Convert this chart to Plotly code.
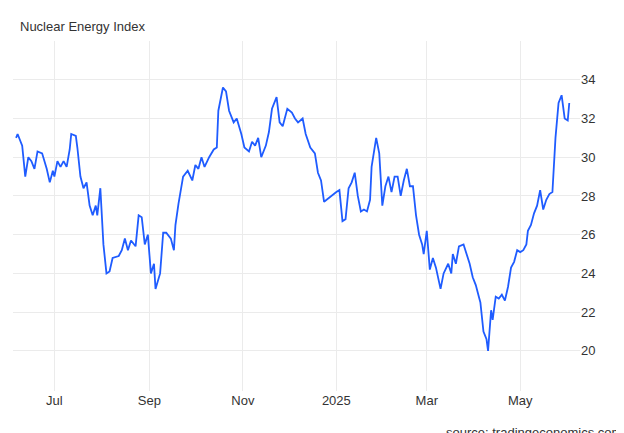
import pandas as pd
import plotly.graph_objects as go

start_date = "2024-06-06"
day_offsets = [0,1,4,6,8,10,12,14,17,20,22,24,25,27,29,31,33,35,36,39,40,42,44,46,48,50,52,53,55,57,59,61,63,67,69,71,73,75,78,80,82,84,86,88,90,91,94,96,98,101,103,104,106,109,112,115,117,119,121,123,126,129,131,132,135,137,139,142,144,147,149,152,154,156,158,160,163,165,167,170,172,174,177,180,182,184,187,189,192,195,197,199,201,204,206,209,211,213,215,217,219,221,223,225,227,229,231,232,235,237,239,241,243,245,247,249,251,253,255,257,259,261,263,265,266,268,270,272,274,277,279,282,284,285,287,289,292,294,296,298,300,302,303,305,307,308,310,311,313,315,317,319,321,323,325,327,329,331,333,334,336,338,340,342,344,346,348,350,352,354,356,358,360,361]
values = [31.0,31.2,30.6,29.0,30.0,29.8,29.4,30.3,30.2,29.4,28.7,29.3,29.0,29.8,29.5,29.8,29.5,30.4,31.2,31.1,30.5,29.0,28.4,28.7,27.5,27.0,27.5,27.0,28.4,25.5,24.0,24.1,24.8,24.9,25.2,25.8,25.2,25.7,25.4,27.0,26.9,25.5,26.0,24.0,24.5,23.2,24.0,26.1,26.1,25.8,25.2,26.5,27.6,29.0,29.3,28.8,29.6,29.4,30.0,29.5,30.0,30.4,30.5,32.4,33.6,33.4,32.4,31.8,32.0,31.2,30.5,30.3,30.8,30.6,31.0,30.0,30.6,31.3,32.5,33.1,31.8,31.6,32.5,32.3,32.0,31.8,32.0,31.2,30.5,30.2,29.2,28.8,27.7,27.9,28.0,28.2,28.3,26.7,26.8,28.4,28.7,29.2,28.0,27.2,27.3,27.2,27.8,29.5,31.0,30.2,27.5,28.5,29.0,28.2,29.0,29.0,28.0,28.8,29.4,28.5,28.5,27.0,26.0,25.5,25.0,26.2,24.2,24.8,24.3,23.2,24.0,24.5,24.0,25.0,24.5,25.4,25.5,25.0,24.5,23.8,23.4,22.8,22.5,21.0,20.6,20.0,22.1,21.6,22.8,22.7,22.9,22.6,23.3,24.3,24.6,25.2,25.1,25.2,25.5,26.2,26.5,27.1,27.5,28.3,27.3,27.8,28.1,28.2,31.0,32.8,33.2,32.0,31.9,32.8]
tick_dates = ["2024-07-01","2024-09-01","2024-11-01","2025-01-01","2025-03-01","2025-05-01"]
tick_labels = ["Jul","Sep","Nov","2025","Mar","May"]
y_ticks = [20,22,24,26,28,30,32,34]

base = pd.Timestamp(start_date)
dates = [base + pd.Timedelta(days=d) for d in day_offsets]

fig = go.Figure(go.Scatter(x=dates, y=values, mode="lines",
                           line=dict(color="#1f5cff", width=1.8), hoverinfo="skip"))
fig.update_layout(
    width=624, height=433, margin=dict(l=5, r=52, t=33, b=50, autoexpand=False),
    plot_bgcolor="white", paper_bgcolor="white", showlegend=False,
    font=dict(family="Liberation Sans, Arial", size=13, color="#333"),
    xaxis=dict(range=[base + pd.Timedelta(days=-2), base + pd.Timedelta(days=368)],
               tickvals=pd.to_datetime(tick_dates), ticktext=tick_labels, automargin=False,
               showgrid=True, gridcolor="#ebebeb", zeroline=False, showline=False,
               ticks="", tickfont=dict(size=13, color="#333")),
    yaxis=dict(side="right", range=[17.93, 36.0], tickvals=y_ticks, automargin=False,
               showgrid=True, gridcolor="#ebebeb", zeroline=False, showline=False,
               ticks="", tickfont=dict(size=13, color="#333")),
    annotations=[
        dict(text="Nuclear Energy Index", xref="paper", yref="paper", x=0, y=1,
             xanchor="left", yanchor="middle", xshift=5, yshift=15, showarrow=False,
             font=dict(size=13, color="#333")),
        dict(text="source: tradingeconomics.com", xref="paper", yref="paper",
             x=1, y=0, xanchor="right", yanchor="middle", xshift=44, yshift=-41,
             showarrow=False, font=dict(size=13, color="#333"))],
)
fig.write_html("out.html")
